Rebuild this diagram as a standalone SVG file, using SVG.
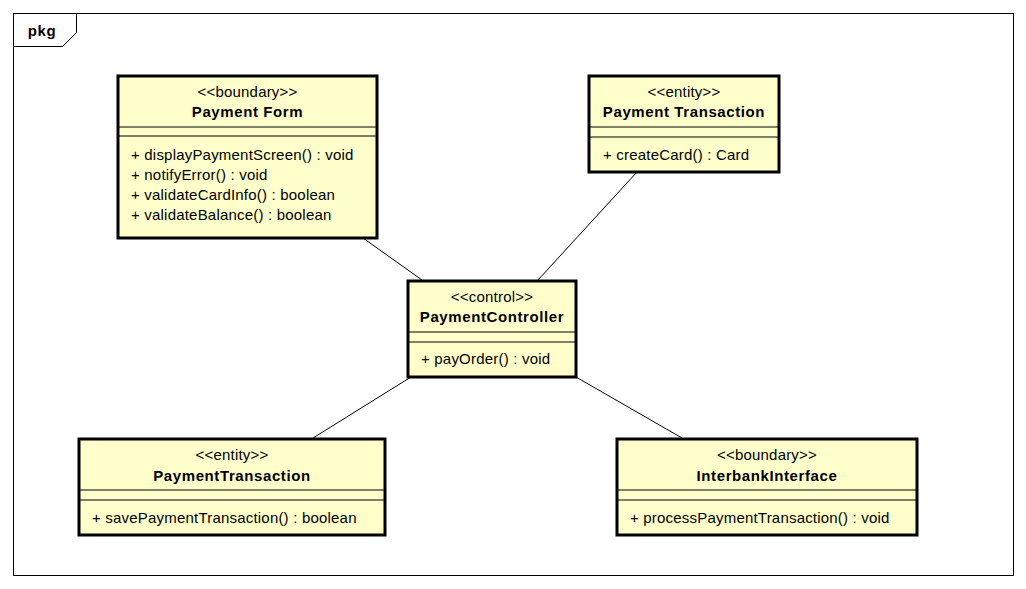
<svg xmlns="http://www.w3.org/2000/svg" width="1026" height="589" viewBox="0 0 1026 589">
<style>
.frame{fill:#fff;stroke:#000;stroke-width:1}
.box{fill:#ffffcc;stroke:#000;stroke-width:3}
.sep{stroke:#000;stroke-width:1}
.st{font-family:"Liberation Sans",Arial,sans-serif;font-size:15px;letter-spacing:0.2px;text-anchor:middle;fill:#000}
.nm{font-family:"Liberation Sans",Arial,sans-serif;font-size:15px;letter-spacing:0.6px;font-weight:bold;text-anchor:middle;fill:#000}
.op{font-family:"Liberation Sans",Arial,sans-serif;font-size:15px;letter-spacing:0.2px;fill:#000}
.conn{stroke:#000;stroke-width:1;fill:none}
</style>
<rect width="1026" height="589" fill="#fff"/>
<g id="frame">
<rect class="frame" x="13.5" y="13.5" width="1000" height="562"/>
<path class="conn" d="M13.5,46.5 H62.5 L76.5,32.5 V13.5"/>
<text class="nm" x="42" y="36">pkg</text>
</g>
<g id="connectors">
<line class="conn" x1="363" y1="238" x2="422" y2="280"/>
<line class="conn" x1="637" y1="172" x2="538" y2="280"/>
<line class="conn" x1="411" y1="377" x2="313" y2="438"/>
<line class="conn" x1="576" y1="377" x2="682" y2="438"/>
</g>
<g id="payment-form">
<rect class="box" x="118" y="76" width="259" height="162"/>
<line class="sep" x1="118" y1="127" x2="377" y2="127"/>
<line class="sep" x1="118" y1="136" x2="377" y2="136"/>
<text class="st" x="247.5" y="97">&lt;&lt;boundary&gt;&gt;</text>
<text class="nm" x="247.5" y="117">Payment Form</text>
<text class="op" x="131" y="160">+ displayPaymentScreen() : void</text>
<text class="op" x="131" y="180">+ notifyError() : void</text>
<text class="op" x="131" y="200">+ validateCardInfo() : boolean</text>
<text class="op" x="131" y="220">+ validateBalance() : boolean</text>
</g>
<g id="payment-transaction-entity">
<rect class="box" x="589" y="76" width="190" height="96"/>
<line class="sep" x1="589" y1="127" x2="779" y2="127"/>
<line class="sep" x1="589" y1="137" x2="779" y2="137"/>
<text class="st" x="684" y="97">&lt;&lt;entity&gt;&gt;</text>
<text class="nm" x="684" y="117">Payment Transaction</text>
<text class="op" x="603" y="160">+ createCard() : Card</text>
</g>
<g id="payment-controller">
<rect class="box" x="408" y="281" width="168" height="96"/>
<line class="sep" x1="408" y1="332" x2="576" y2="332"/>
<line class="sep" x1="408" y1="342" x2="576" y2="342"/>
<text class="st" x="492" y="302">&lt;&lt;control&gt;&gt;</text>
<text class="nm" x="492" y="322">PaymentController</text>
<text class="op" x="421" y="364">+ payOrder() : void</text>
</g>
<g id="payment-transaction">
<rect class="box" x="79" y="439" width="306" height="96"/>
<line class="sep" x1="79" y1="490" x2="385" y2="490"/>
<line class="sep" x1="79" y1="500" x2="385" y2="500"/>
<text class="st" x="232" y="460">&lt;&lt;entity&gt;&gt;</text>
<text class="nm" x="232" y="481">PaymentTransaction</text>
<text class="op" x="92" y="523">+ savePaymentTransaction() : boolean</text>
</g>
<g id="interbank-interface">
<rect class="box" x="617" y="439" width="300" height="96"/>
<line class="sep" x1="617" y1="490" x2="917" y2="490"/>
<line class="sep" x1="617" y1="500" x2="917" y2="500"/>
<text class="st" x="767" y="460">&lt;&lt;boundary&gt;&gt;</text>
<text class="nm" x="767" y="481">InterbankInterface</text>
<text class="op" x="630" y="523">+ processPaymentTransaction() : void</text>
</g>
</svg>
